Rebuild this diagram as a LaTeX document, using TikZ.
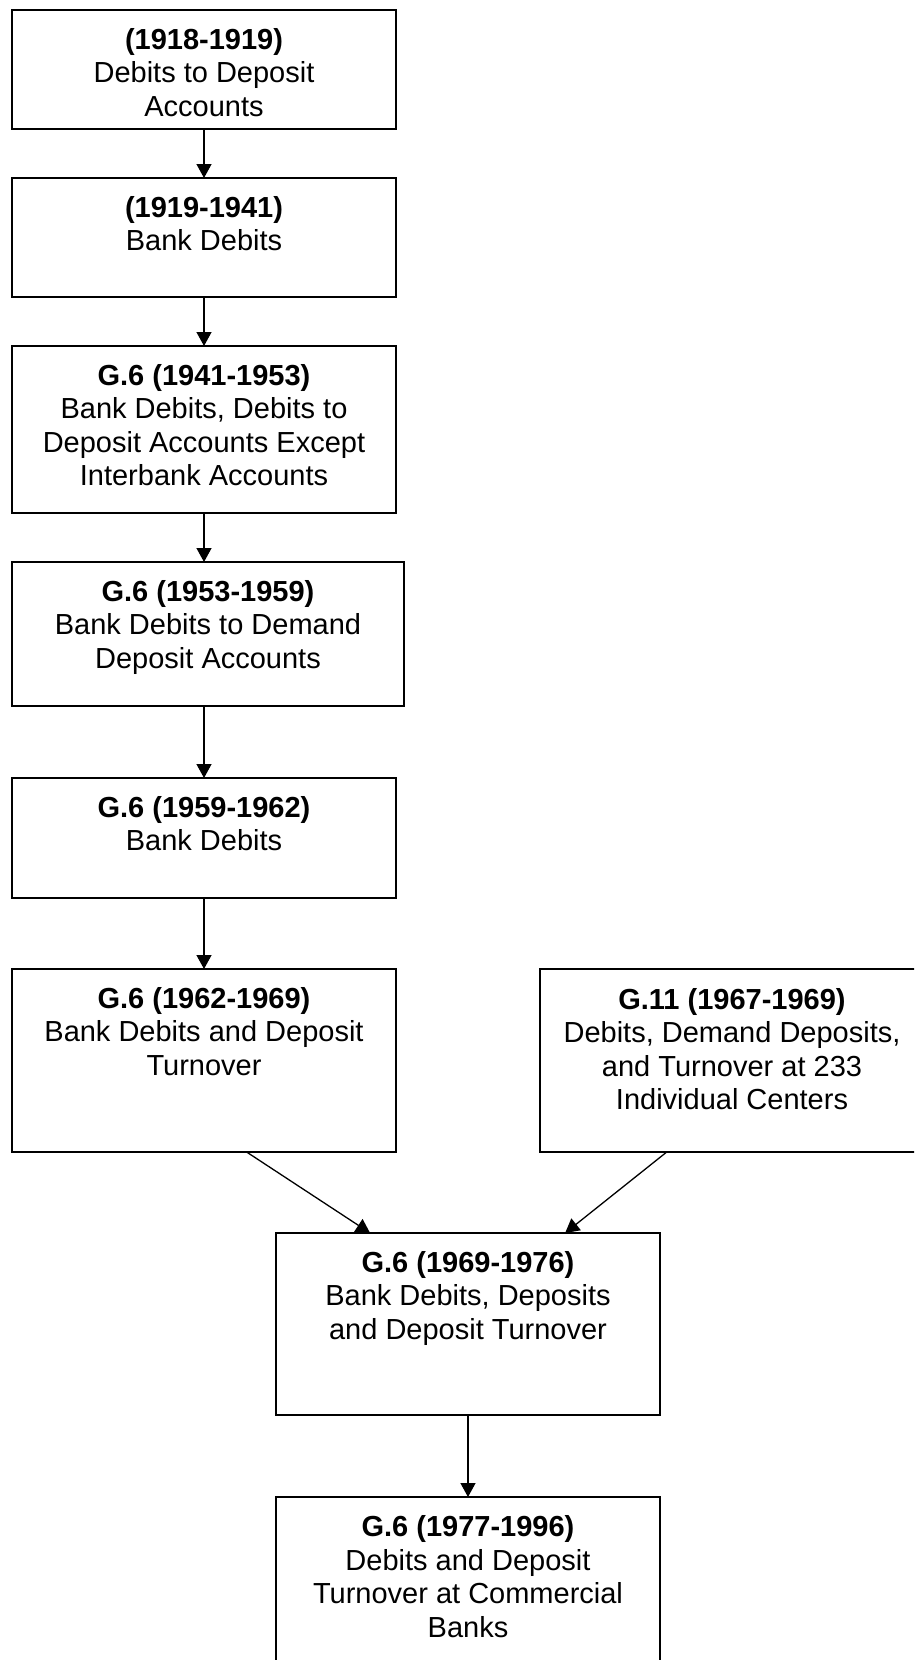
\documentclass[tikz,border=0pt]{standalone}
\usepackage{fontspec}
\setmainfont{Liberation Sans}
\usetikzlibrary{arrows.meta,calc}
\begin{document}
\begin{tikzpicture}[x=1pt,y=-1pt,
  box/.style={draw=black, line width=1.5pt, minimum width=384pt, inner sep=0pt, outer sep=0pt, anchor=north west},
  txt/.style={anchor=north, inner sep=0pt, align=center, font=\fontsize{29}{33.5}\selectfont},
  conn/.style={line width=1.3pt, -{Triangle[width=15pt,length=14pt]}}]
\useasboundingbox (0,0) rectangle (914,1660);
\clip (0,0) rectangle (914,1660);
\fill[white] (0,0) rectangle (914,1660);
\node[box, minimum height=119pt] (b1) at (12,10) {};
\node[box, minimum height=119pt] (b2) at (12,178) {};
\node[box, minimum height=167pt] (b3) at (12,346) {};
\node[box, minimum height=144pt, minimum width=392pt] (b4) at (12,562) {};
\node[box, minimum height=120pt] (b5) at (12,778) {};
\node[box, minimum height=183pt] (b6) at (12,969) {};
\node[box, minimum height=183pt] (b7) at (540,969) {};
\node[box, minimum height=182pt] (b8) at (276,1233) {};
\node[box, minimum height=183pt] (b9) at (276,1497) {};
\newcommand{\fs}{\rule{0pt}{25pt}}
\node[txt] (t1) at ([yshift=-14pt]b1.north) {\fs\textbf{(1918-1919)}\\Debits to Deposit\\Accounts};
\node[txt] (t2) at ([yshift=-14pt]b2.north) {\fs\textbf{(1919-1941)}\\Bank Debits};
\node[txt] (t3) at ([yshift=-14pt]b3.north) {\fs\textbf{G.6 (1941-1953)}\\Bank Debits, Debits to\\Deposit Accounts Except\\Interbank Accounts};
\node[txt] (t4) at ([yshift=-14pt]b4.north) {\fs\textbf{G.6 (1953-1959)}\\Bank Debits to Demand\\Deposit Accounts};
\node[txt] (t5) at ([yshift=-14pt]b5.north) {\fs\textbf{G.6 (1959-1962)}\\Bank Debits};
\node[txt] (t6) at ([yshift=-14pt]b6.north) {\fs\textbf{G.6 (1962-1969)}\\Bank Debits and Deposit\\Turnover};
\node[txt] (t7) at ([yshift=-15pt]b7.north) {\fs\textbf{G.11 (1967-1969)}\\Debits, Demand Deposits,\\and Turnover at 233\\Individual Centers};
\node[txt] (t8) at ([yshift=-14pt]b8.north) {\fs\textbf{G.6 (1969-1976)}\\Bank Debits, Deposits\\and Deposit Turnover};
\node[txt] (t9) at ([yshift=-14.5pt]b9.north) {\fs\textbf{G.6 (1977-1996)}\\Debits and Deposit\\Turnover at Commercial\\Banks};
\draw[conn] (b1.south) -- (b2.north);
\draw[conn] (b2.south) -- (b3.north);
\draw[conn] (b3.south) -- (b3.south |- b4.north);
\draw[conn] (b5.north |- b4.south) -- (b5.north);
\draw[conn] (b5.south) -- (b6.north);
\draw[conn] ($(b6.south west)!0.611!(b6.south east)$) -- ($(b8.north west)!0.245!(b8.north east)$);
\draw[conn] ($(b7.south west)!0.33!(b7.south east)$) -- ($(b8.north west)!0.753!(b8.north east)$);
\draw[conn] (b8.south) -- (b9.north);
\end{tikzpicture}
\end{document}
